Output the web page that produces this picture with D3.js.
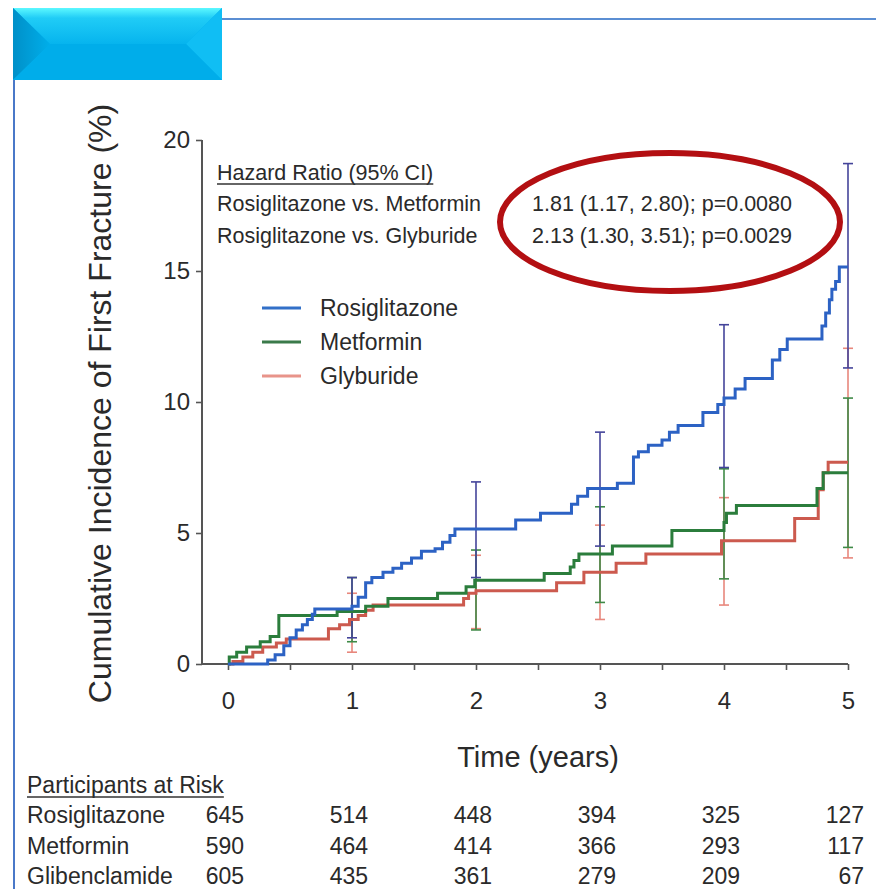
<!DOCTYPE html>
<html>
<head>
<meta charset="utf-8">
<script src="https://cdn.jsdelivr.net/npm/d3@7"></script>
<style>
  html, body { margin: 0; padding: 0; background: #fff; }
  svg { display: block; }
  text { font-family: "Liberation Sans", Arial, sans-serif; fill: #2a2a2a; }
</style>
</head>
<body>
<svg id="chart" width="876" height="889"></svg>
<script>
// ---------------- data ----------------
const seriesNames = ["Rosiglitazone", "Metformin", "Glyburide"];
// step points [time (years), cumulative incidence (%)]
const rosiglitazone = [[0,0],[0.32,0.15],[0.38,0.35],[0.45,0.7],[0.5,1.0],[0.55,1.3],[0.6,1.5],[0.64,1.7],[0.68,1.9],[0.7,2.1],
  [1.0,2.2],[1.05,2.55],[1.11,3.1],[1.16,3.3],[1.25,3.5],[1.33,3.65],[1.4,3.85],[1.48,4.05],[1.56,4.3],[1.67,4.4],[1.73,4.65],[1.79,4.9],[1.83,5.15],
  [2.32,5.5],[2.52,5.75],[2.77,6.1],[2.82,6.4],[2.9,6.7],[3.14,6.9],[3.27,7.9],[3.31,8.1],[3.39,8.35],[3.5,8.55],[3.56,8.85],[3.63,9.1],
  [3.83,9.6],[3.95,9.9],[4.0,10.15],[4.09,10.5],[4.17,10.9],[4.39,11.6],[4.45,12.0],[4.51,12.4],[4.79,12.9],[4.82,13.4],[4.85,13.9],[4.87,14.3],[4.9,14.6],[4.93,15.15],[5.0,15.15]];
const metformin = [[0,0],[0.01,0.27],[0.07,0.45],[0.15,0.65],[0.26,0.85],[0.34,1.05],[0.41,1.85],[0.88,2.0],[1.11,2.2],[1.29,2.5],[1.69,2.7],[1.92,2.95],[1.99,3.2],
  [2.55,3.45],[2.76,3.7],[2.79,3.95],[2.83,4.2],[3.1,4.5],[3.58,5.1],[4.0,5.4],[4.02,5.75],[4.1,6.05],[4.75,6.7],[4.8,7.3],[5.0,7.3]];
const glyburide = [[0,0],[0.04,0.1],[0.12,0.27],[0.2,0.45],[0.28,0.65],[0.39,0.8],[0.47,0.95],[0.81,1.35],[0.9,1.5],[0.98,1.7],[1.05,1.85],[1.11,2.05],[1.17,2.25],
  [1.9,2.5],[1.94,2.7],[2.0,2.8],[2.65,3.1],[2.87,3.5],[3.13,3.85],[3.37,4.2],[3.98,4.7],[4.57,5.55],[4.76,6.65],[4.8,7.3],[4.84,7.7],[5.0,7.7]];

// 95% CI at yearly time points
const ciTimes = [1, 2, 3, 4, 5];
const rosiLower = [1.0, 3.3, 4.5, 7.5, 11.3];
const rosiUpper = [3.3, 6.95, 8.85, 12.95, 19.1];
const metLower = [0.85, 1.3, 2.35, 3.25, 4.45];
const metUpper = [3.3, 4.35, 6.0, 7.45, 10.15];
const glyLower = [0.45, 1.35, 1.7, 2.25, 4.05];
const glyUpper = [2.7, 4.15, 5.3, 6.35, 12.05];

const yTicks = [0, 5, 10, 15, 20];
const xTicks = [0, 0.5, 1, 1.5, 2, 2.5, 3, 3.5, 4, 4.5, 5];

const hrTitle = "Hazard Ratio (95% CI)";
const hrLabels = ["Rosiglitazone vs. Metformin", "Rosiglitazone vs. Glyburide"];
const hrValues = ["1.81 (1.17, 2.80); p=0.0080", "2.13 (1.30, 3.51); p=0.0029"];

const riskTitle = "Participants at Risk";
const riskTimes = [0, 1, 2, 3, 4, 5];
const riskNames = ["Rosiglitazone", "Metformin", "Glibenclamide"];
const riskRosi = [645, 514, 448, 394, 325, 127];
const riskMet = [590, 464, 414, 366, 293, 117];
const riskGli = [605, 435, 361, 279, 209, 67];

// ---------------- drawing ----------------
const svg = d3.select("#chart");
const defs = svg.append("defs");

// decoration: beveled cyan block + frame lines
const gTop = defs.append("linearGradient").attr("id", "gTop").attr("x1", 0).attr("y1", 0).attr("x2", 0).attr("y2", 1);
gTop.append("stop").attr("offset", "0%").attr("stop-color", "#5cf8ff");
gTop.append("stop").attr("offset", "28%").attr("stop-color", "#20ccf6");
gTop.append("stop").attr("offset", "100%").attr("stop-color", "#06b4ee");
const gLeft = defs.append("linearGradient").attr("id", "gLeft").attr("x1", 0).attr("y1", 0).attr("x2", 1).attr("y2", 0);
gLeft.append("stop").attr("offset", "0%").attr("stop-color", "#0090c8");
gLeft.append("stop").attr("offset", "100%").attr("stop-color", "#00aeea");

const deco = svg.append("g");
deco.append("line").attr("x1", 222).attr("x2", 876).attr("y1", 19).attr("y2", 19).attr("stroke", "#5b8ed3").attr("stroke-width", 2);
deco.append("line").attr("x1", 14).attr("x2", 14).attr("y1", 80).attr("y2", 889).attr("stroke", "#4a78c8").attr("stroke-width", 2);
const bx0 = 13, bx1 = 222, by0 = 8, by1 = 80, ix0 = 50, ix1 = 186, iy = 44;
deco.append("rect").attr("x", bx0).attr("y", by0).attr("width", bx1 - bx0).attr("height", by1 - by0).attr("fill", "#00b0ee");
deco.append("polygon").attr("points", `${bx0},${by0} ${bx1},${by0} ${ix1},${iy} ${ix0},${iy}`).attr("fill", "url(#gTop)");
deco.append("polygon").attr("points", `${bx0},${by0} ${ix0},${iy} ${bx0},${by1}`).attr("fill", "url(#gLeft)");
deco.append("polygon").attr("points", `${bx1},${by0} ${ix1},${iy} ${bx1},${by1}`).attr("fill", "#10bef4");
deco.append("polygon").attr("points", `${bx0},${by1} ${bx1},${by1} ${ix1},${iy} ${ix0},${iy}`).attr("fill", "#00adea");

// scales
const x = d3.scaleLinear().domain([0, 5]).range([228, 848]);
const y = d3.scaleLinear().domain([0, 20]).range([664, 140]);
const axisX0 = 202;

const axisColor = "#555";

// y axis
const yAxis = svg.append("g").attr("transform", `translate(${axisX0},0)`)
  .call(d3.axisLeft(y).tickValues(yTicks).tickSize(6).tickSizeOuter(0).tickPadding(6));
yAxis.select(".domain").remove();
yAxis.selectAll(".tick line").attr("stroke", axisColor).attr("stroke-width", 1.6);
yAxis.selectAll(".tick text").attr("font-size", 24).attr("fill", "#2a2a2a")
  .style("font-family", '"Liberation Sans", Arial, sans-serif');
svg.append("line").attr("x1", axisX0).attr("x2", axisX0).attr("y1", y(20)).attr("y2", y(0))
  .attr("stroke", axisColor).attr("stroke-width", 2);

// x axis
const xAxis = svg.append("g").attr("transform", `translate(0,${y(0)})`)
  .call(d3.axisBottom(x).tickValues(xTicks).tickSize(6).tickSizeOuter(0).tickPadding(22)
    .tickFormat(d => Number.isInteger(d) ? d3.format("d")(d) : ""));
xAxis.select(".domain").remove();
xAxis.selectAll(".tick line").attr("stroke", axisColor).attr("stroke-width", 1.6);
xAxis.selectAll(".tick text").attr("font-size", 24).attr("fill", "#2a2a2a")
  .style("font-family", '"Liberation Sans", Arial, sans-serif');
svg.append("line").attr("x1", axisX0).attr("x2", x(5)).attr("y1", y(0)).attr("y2", y(0))
  .attr("stroke", axisColor).attr("stroke-width", 2);

// axis titles
svg.append("text").attr("transform", `translate(100,${(95 + 712) / 2}) rotate(-90)`)
  .attr("text-anchor", "middle").attr("dominant-baseline", "central")
  .attr("font-size", 32).text("Cumulative Incidence of First Fracture (%)");
svg.append("text").attr("x", 538).attr("y", 767).attr("text-anchor", "middle")
  .attr("font-size", 29).text("Time (years)");

// error bars
const ciSets = [
  { lower: glyLower, upper: glyUpper, color: "#e8877c" },
  { lower: metLower, upper: metUpper, color: "#3f8a47" },
  { lower: rosiLower, upper: rosiUpper, color: "#44449a" }
];
const capW = 5;
ciSets.forEach(s => {
  const g = svg.append("g").attr("stroke", s.color).attr("stroke-width", 1.6);
  ciTimes.forEach((t, i) => {
    g.append("line").attr("x1", x(t)).attr("x2", x(t)).attr("y1", y(s.lower[i])).attr("y2", y(s.upper[i]));
    g.append("line").attr("x1", x(t) - capW).attr("x2", x(t) + capW).attr("y1", y(s.lower[i])).attr("y2", y(s.lower[i]));
    g.append("line").attr("x1", x(t) - capW).attr("x2", x(t) + capW).attr("y1", y(s.upper[i])).attr("y2", y(s.upper[i]));
  });
});

// curves
const line = d3.line().x(d => x(d[0])).y(d => y(d[1])).curve(d3.curveStepAfter);
const curves = [
  { data: glyburide, color: "#cc5a4e" },
  { data: metformin, color: "#2b7d3c" },
  { data: rosiglitazone, color: "#2c62c4" }
];
curves.forEach(c => {
  svg.append("path").datum(c.data).attr("d", line).attr("fill", "none")
    .attr("stroke", c.color).attr("stroke-width", 3).attr("stroke-linejoin", "miter");
});

// legend
const legendColors = ["#3270c8", "#3a7a4a", "#e8948a"];
const legend = svg.append("g");
seriesNames.forEach((n, i) => {
  const ly = 308 + i * 34;
  legend.append("line").attr("x1", 262).attr("x2", 301).attr("y1", ly).attr("y2", ly)
    .attr("stroke", legendColors[i]).attr("stroke-width", 3);
  legend.append("text").attr("x", 320).attr("y", ly).attr("dominant-baseline", "central")
    .attr("font-size", 23).text(n);
});

// hazard ratio box
const hr = svg.append("g");
hr.append("text").attr("x", 217).attr("y", 180).attr("font-size", 21.5).text(hrTitle);
const hrW = hr.select("text").node().getComputedTextLength();
hr.append("line").attr("x1", 217).attr("x2", 217 + hrW).attr("y1", 184).attr("y2", 184).attr("stroke", "#333").attr("stroke-width", 1.4);
hrLabels.forEach((l, i) => {
  hr.append("text").attr("x", 217).attr("y", 211 + i * 32).attr("font-size", 21.5).text(l);
  hr.append("text").attr("x", 532).attr("y", 211 + i * 32).attr("font-size", 21.5).text(hrValues[i]);
});

// red ellipse highlight
svg.append("ellipse").attr("cx", 670).attr("cy", 222).attr("rx", 170).attr("ry", 69)
  .attr("fill", "none").attr("stroke", "#b30f12").attr("stroke-width", 6);

// participants at risk table
const tbl = svg.append("g");
const tt = tbl.append("text").attr("x", 27).attr("y", 793).attr("font-size", 23).text(riskTitle);
const tw = tt.node().getComputedTextLength();
tbl.append("line").attr("x1", 27).attr("x2", 27 + tw).attr("y1", 797).attr("y2", 797).attr("stroke", "#333").attr("stroke-width", 1.4);
const riskRows = [riskRosi, riskMet, riskGli];
riskRows.forEach((row, r) => {
  const ry = 823 + r * 30.5;
  tbl.append("text").attr("x", 27).attr("y", ry).attr("font-size", 23).text(riskNames[r]);
  row.forEach((v, i) => {
    tbl.append("text").attr("x", x(riskTimes[i]) + 16).attr("y", ry).attr("text-anchor", "end")
      .attr("font-size", 23).text(v);
  });
});
</script>
</body>
</html>
